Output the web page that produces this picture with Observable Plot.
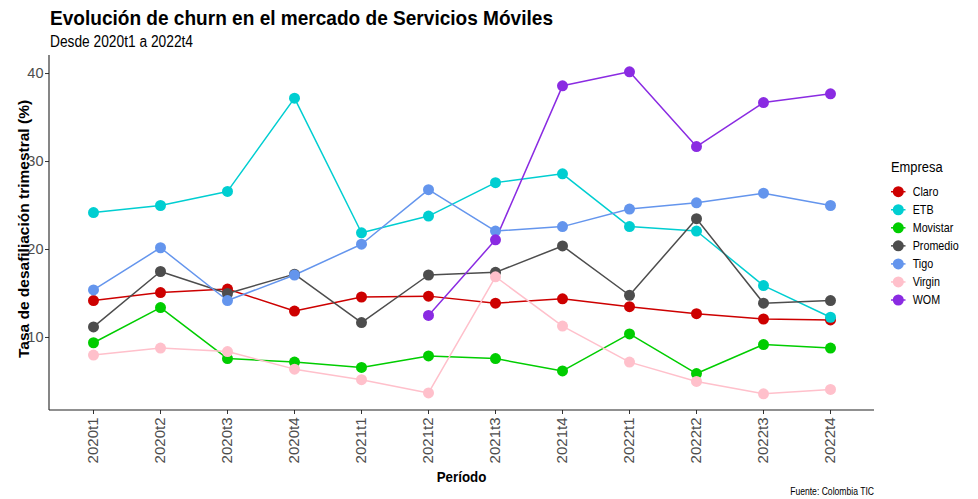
<!DOCTYPE html>
<html><head><meta charset="utf-8">
<script src="https://cdn.jsdelivr.net/npm/d3@7"></script>
<script src="https://cdn.jsdelivr.net/npm/@observablehq/plot@0.6"></script>
<style>
body{margin:0;background:#fff;}
#chart{position:relative;width:978px;height:499px;}
#chart svg text{font-family:"Liberation Sans",Arial,sans-serif;}
#chart g[aria-label="y-axis tick label"], #chart g[aria-label="x-axis tick label"]{fill:#4d4d4d;}
#chart g[aria-label="y-axis tick"], #chart g[aria-label="x-axis tick"]{stroke:#333;}
</style></head><body><div id="chart"></div>
<script>
const periods = ["2020t1","2020t2","2020t3","2020t4","2021t1","2021t2","2021t3","2021t4","2022t1","2022t2","2022t3","2022t4"];
const companies = ["Claro","ETB","Movistar","Promedio","Tigo","Virgin","WOM"];
const colors = ["#CD0000","#00CED1","#00CD00","#4D4D4D","#6495ED","#FFC0CB","#8A2BE2"];
const claro    = [14.2, 15.1, 15.5, 13.0, 14.6, 14.7, 13.9, 14.4, 13.5, 12.7, 12.1, 12.0];
const etb      = [24.2, 25.0, 26.6, 37.2, 21.9, 23.8, 27.6, 28.6, 22.6, 22.1, 15.9, 12.3];
const movistar = [9.4, 13.4, 7.6, 7.2, 6.6, 7.9, 7.6, 6.2, 10.4, 5.9, 9.2, 8.8];
const promedio = [11.2, 17.5, 15.0, 17.2, 11.7, 17.1, 17.4, 20.4, 14.8, 23.5, 13.9, 14.2];
const tigo     = [15.4, 20.2, 14.2, 17.1, 20.6, 26.8, 22.1, 22.6, 24.6, 25.3, 26.4, 25.0];
const virgin   = [8.0, 8.8, 8.4, 6.4, 5.2, 3.7, 16.9, 11.3, 7.2, 5.0, 3.6, 4.1];
const wom      = [null, null, null, null, null, 12.5, 21.1, 38.6, 40.2, 31.7, 36.7, 37.7];
const yTicks = [10, 20, 30, 40];

const title = "Evolución de churn en el mercado de Servicios Móviles";
const subtitle = "Desde 2020t1 a 2022t4";
const xTitle = "Período";
const yTitle = "Tasa de desafiliación trimestral (%)";
const legendTitle = "Empresa";
const caption = "Fuente: Colombia TIC";

const series = [claro, etb, movistar, promedio, tigo, virgin, wom];
const data = [];
companies.forEach((c, i) => series[i].forEach((v, j) => {
  if (v != null) data.push({period: periods[j], company: c, value: v});
}));

const W = 978, H = 499, mT = 55, mR = 104, mB = 89, mL = 49;
const chart = Plot.plot({
  width: W, height: H, marginTop: mT, marginRight: mR, marginBottom: mB, marginLeft: mL,
  style: {fontFamily: '"Liberation Sans", Arial, sans-serif', background: "#fff", color: "#333"},
  x: {type: "point", domain: periods, padding: 0.6},
  y: {domain: [1.7, 42.05]},
  color: {domain: companies, range: colors},
  marks: [
    Plot.axisY(yTicks, {tickSize: 4, tickPadding: 2, fontSize: 14.5, label: null}),
    Plot.axisX({tickSize: 4, tickPadding: 3, tickRotate: -90, fontSize: 15, label: null}),
    Plot.line(data, {x: "period", y: "value", z: "company", stroke: "company", strokeWidth: 1.5}),
    Plot.dot(data, {x: "period", y: "value", fill: "company", r: 5.5})
  ]
});
document.getElementById("chart").appendChild(chart);

const svg = d3.select(chart);
const color = chart.scale("color");
const ff = '"Liberation Sans", Arial, sans-serif';
// axis lines
svg.append("line").attr("x1", mL).attr("x2", mL).attr("y1", mT).attr("y2", H - mB).attr("stroke", "#222").attr("stroke-width", 1.1);
svg.append("line").attr("x1", mL).attr("x2", W - mR).attr("y1", H - mB).attr("y2", H - mB).attr("stroke", "#222").attr("stroke-width", 1.1);

// title & subtitle
svg.append("text").attr("x", 50).attr("y", 25).attr("text-anchor", "start").text(title)
  .attr("font-family", ff).attr("font-weight", "bold").attr("font-size", 21).attr("fill", "#000")
  .attr("textLength", 503).attr("lengthAdjust", "spacingAndGlyphs");
svg.append("text").attr("x", 50).attr("y", 46.7).attr("text-anchor", "start").text(subtitle)
  .attr("font-family", ff).attr("font-size", 16).attr("fill", "#000")
  .attr("textLength", 143).attr("lengthAdjust", "spacingAndGlyphs");

// axis titles
svg.append("text").attr("transform", "translate(28.5,229) rotate(-90)").attr("text-anchor", "middle")
  .text(yTitle).attr("font-family", ff).attr("font-weight", "bold").attr("font-size", 15.5).attr("fill", "#000");
svg.append("text").attr("transform", `translate(${(mL + W - mR) / 2},482) scale(0.86,1)`).attr("text-anchor", "middle")
  .text(xTitle).attr("font-family", ff).attr("font-weight", "bold").attr("font-size", 15.5).attr("fill", "#000");

// caption
svg.append("text").attr("transform", `translate(${W - mR},495) scale(0.86,1)`).attr("text-anchor", "end")
  .text(caption).attr("font-family", ff).attr("font-size", 10).attr("fill", "#000");

// legend
const lg = svg.append("g").attr("text-anchor", "start");
lg.append("text").attr("transform", "translate(891,171.7) scale(0.86,1)").attr("text-anchor", "start").text(legendTitle)
  .attr("font-family", ff).attr("font-size", 15).attr("fill", "#000");
companies.forEach((c, i) => {
  const cy = 191.7 + i * 18.05;
  lg.append("line").attr("x1", 891).attr("x2", 905.5).attr("y1", cy).attr("y2", cy)
    .attr("stroke", color.apply(c)).attr("stroke-width", 1.5);
  lg.append("circle").attr("cx", 898.3).attr("cy", cy).attr("r", 5.5).attr("fill", color.apply(c));
  lg.append("text").attr("transform", `translate(912.7,${cy + 4.4}) scale(0.86,1)`).attr("text-anchor", "start").text(c)
    .attr("font-family", ff).attr("font-size", 12.5).attr("fill", "#000");
});
</script></body></html>
